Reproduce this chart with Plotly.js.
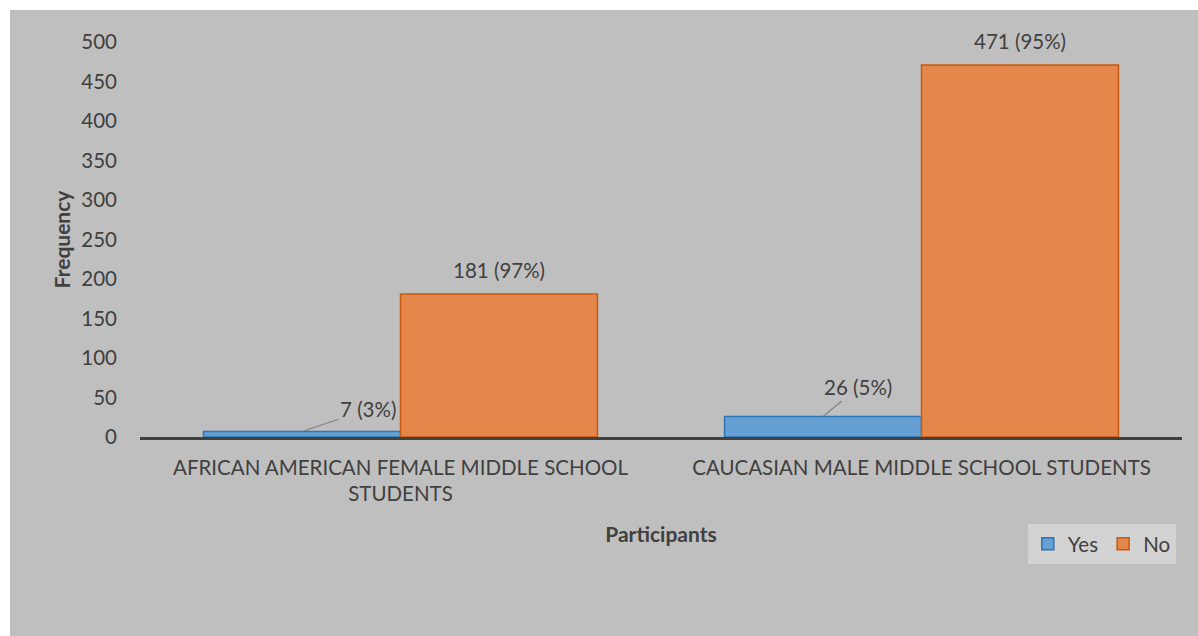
<!DOCTYPE html>
<html>
<head>
<meta charset="utf-8">
<script src="https://cdn.plot.ly/plotly-3.0.1.min.js"></script>
<style>
  html, body { margin: 0; padding: 0; background: #ffffff; }
  #chart { position: absolute; left: 10px; top: 10px; width: 1188px; height: 626px; }
</style>
</head>
<body>
<div id="chart"></div>
<script>
// ---- data ----
const categories = [
  "AFRICAN AMERICAN FEMALE MIDDLE SCHOOL<br>STUDENTS",
  "CAUCASIAN MALE MIDDLE SCHOOL STUDENTS"
];
const seriesNames = ["Yes", "No"];
const yesValues = [7, 26];
const noValues = [181, 471];
const yesPercents = ["3%", "5%"];
const noPercents = ["97%", "95%"];
const yTickValues = [0, 50, 100, 150, 200, 250, 300, 350, 400, 450, 500];

// ---- styles ----
const FONT = "Lato, 'Open Sans', sans-serif";
const TEXT = "#404040";
const BG = "#BFBFBF";
const FS = 20.5;
const BARGAP = 0.244;
const half = (1 - BARGAP) / 4; // offset of each bar centre from the category centre

const yesTrace = {
  type: "bar", name: seriesNames[0], x: categories, y: yesValues,
  marker: { color: "#659FD3", line: { color: "#2E75B6", width: 1.5 } },
  hoverinfo: "y"
};
const noTrace = {
  type: "bar", name: seriesNames[1], x: categories, y: noValues,
  marker: { color: "#E5864A", line: { color: "#C55A11", width: 1.5 } },
  hoverinfo: "y"
};

const annotations = [];
// Yes labels with leader lines
const yesOffsets = [[66, -22], [35, -29]];
yesValues.forEach((v, i) => {
  annotations.push({
    xref: "x", yref: "y", x: i - half, y: v,
    text: v + " (" + yesPercents[i] + ")",
    showarrow: true, arrowhead: 0, arrowwidth: 1.2, arrowcolor: "#808080",
    ax: yesOffsets[i][0], ay: yesOffsets[i][1], standoff: 0,
    font: { family: FONT, size: FS, color: TEXT }
  });
});
// No labels above bars
noValues.forEach((v, i) => {
  annotations.push({
    xref: "x", yref: "y", x: i + half, y: v,
    text: v + " (" + noPercents[i] + ")",
    showarrow: false, yanchor: "bottom", yshift: 10,
    font: { family: FONT, size: FS, color: TEXT }
  });
});

const layout = {
  width: 1188, height: 626,
  paper_bgcolor: BG, plot_bgcolor: BG,
  margin: { l: 130, r: 16, t: 32, b: 199, pad: 0 },
  barmode: "group", bargap: BARGAP, bargroupgap: 0,
  font: { family: FONT, size: FS, color: TEXT },
  showlegend: true,
  legend: {
    orientation: "h", x: 0.852, y: -0.22, xanchor: "left", yanchor: "top",
    bgcolor: "#D3D3D3", font: { family: FONT, size: FS, color: TEXT },
    traceorder: "normal", itemwidth: 30
  },
  xaxis: {
    type: "category", showline: true, linecolor: "#404040", linewidth: 3,
    showgrid: false, zeroline: false, ticks: "",
    tickfont: { family: FONT, size: FS, color: TEXT },
    ticklabelstandoff: 10,
    title: { text: "<b>Participants</b>", font: { family: FONT, size: 21, color: TEXT }, standoff: 24 }
  },
  yaxis: {
    range: [0, 500], tickvals: yTickValues, showgrid: false, zeroline: false,
    showline: false, ticks: "", ticklabelstandoff: 22,
    tickfont: { family: FONT, size: FS, color: TEXT },
    title: { text: "<b>Frequency</b>", font: { family: FONT, size: 21, color: TEXT }, standoff: 4 }
  },
  annotations: annotations
};

Plotly.newPlot("chart", [yesTrace, noTrace], layout, { displayModeBar: false, staticPlot: true });
</script>
</body>
</html>
